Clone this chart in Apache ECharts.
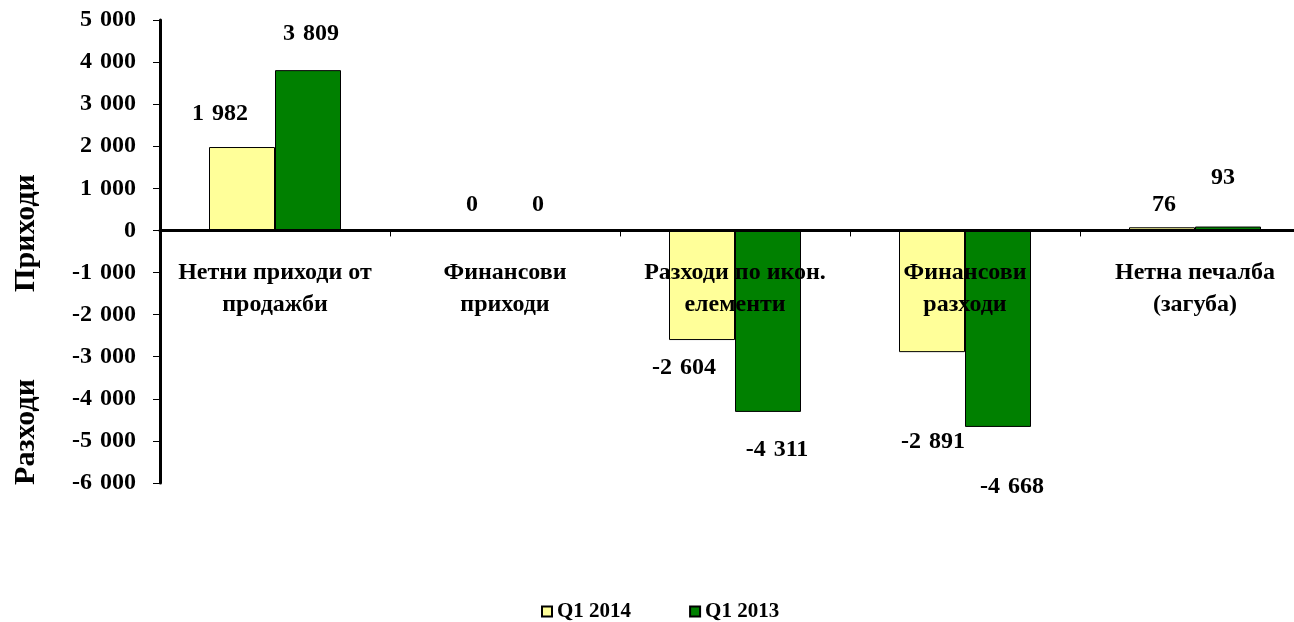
<!DOCTYPE html>
<html>
<head>
<meta charset="utf-8">
<script src="https://cdn.jsdelivr.net/npm/echarts@6/dist/echarts.min.js"></script>
<style>
  html, body { margin: 0; padding: 0; background: #fff; }
  #chart { width: 1294px; height: 622px; }
</style>
</head>
<body>
<div id="chart"></div>
<script>
const categories = [
  "Нетни приходи от\nпродажби",
  "Финансови\nприходи",
  "Разходи по икон.\nелементи",
  "Финансови\nразходи",
  "Нетна печалба\n(загуба)"
];
const seriesNames = ["Q1 2014", "Q1 2013"];
const q1_2014 = [1982, 0, -2604, -2891, 76];
const q1_2013 = [3809, 0, -4311, -4668, 93];

// label nudges to mimic where the original placed its data labels
const lift2014 = [21, 13, 16, 78, 10];
const lift2013 = [24, 13, 26, 48, 37];
const shift2014 = [-22, 0, -18, 1, 2];
const shift2013 = [3, 0, 9, 14, -5];

const FONT = "'Liberation Serif', 'Times New Roman', serif";
const GRID_TOP = 20, GRID_H = 463, Y_MIN = -6000, Y_MAX = 5000;
const zeroY = GRID_TOP + GRID_H * Y_MAX / (Y_MAX - Y_MIN);

const fmt = v => {
  const s = Math.abs(v).toString().replace(/\B(?=(\d{3})+(?!\d))/g, "\u2004");
  return (v < 0 ? "-" : "") + s;
};

const toItems = (vals, lift, shift) => vals.map((v, i) => ({
  value: v,
  label: {
    position: v < 0 ? "bottom" : "top",
    distance: lift[i],
    offset: [shift[i], 0]
  }
}));

const labelStyle = {
  show: true,
  formatter: p => fmt(p.value),
  fontFamily: FONT,
  fontWeight: "bold",
  fontSize: 24,
  color: "#000"
};

const chart = echarts.init(document.getElementById("chart"));
chart.setOption({
  animation: false,
  backgroundColor: "#fff",
  grid: {
    left: 160, width: 1150, top: GRID_TOP, height: GRID_H,
    containLabel: false, outerBoundsMode: "none"
  },
  legend: {
    data: seriesNames,
    left: 536,
    top: 596,
    icon: "rect",
    itemWidth: 10,
    itemHeight: 10,
    itemGap: 58,
    textStyle: { fontFamily: FONT, fontWeight: "bold", fontSize: 21, color: "#000" }
  },
  xAxis: {
    type: "category",
    data: categories,
    position: "bottom",
    offset: -(GRID_TOP + GRID_H - zeroY),
    z: 5,
    axisLine: { onZero: false, lineStyle: { color: "#000", width: 3 } },
    axisTick: { show: true, length: 6, lineStyle: { color: "#000", width: 1 } },
    axisLabel: {
      interval: 0,
      margin: 26,
      fontFamily: FONT,
      fontWeight: "bold",
      fontSize: 24,
      lineHeight: 32,
      color: "#000"
    },
    splitLine: { show: false }
  },
  yAxis: {
    type: "value",
    min: Y_MIN,
    max: Y_MAX,
    interval: 1000,
    z: 5,
    axisLine: { show: true, lineStyle: { color: "#000", width: 3 } },
    axisTick: { show: true, length: 7, lineStyle: { color: "#000", width: 1 } },
    axisLabel: {
      margin: 24,
      formatter: fmt,
      fontFamily: FONT,
      fontWeight: "bold",
      fontSize: 24,
      color: "#000"
    },
    splitLine: { show: false }
  },
  series: [
    {
      name: seriesNames[0],
      type: "bar",
      barWidth: 66,
      barGap: "0%",
      data: toItems(q1_2014, lift2014, shift2014),
      itemStyle: { color: "#FFFF99", borderColor: "#000", borderWidth: 1 },
      label: labelStyle
    },
    {
      name: seriesNames[1],
      type: "bar",
      barWidth: 66,
      barGap: "0%",
      data: toItems(q1_2013, lift2013, shift2013),
      itemStyle: { color: "#008000", borderColor: "#000", borderWidth: 1 },
      label: labelStyle
    }
  ],
  graphic: [
    {
      type: "text",
      x: 26, y: 233,
      rotation: Math.PI / 2,
      style: {
        text: "Приходи",
        font: "bold 30px " + FONT,
        fill: "#000",
        align: "center",
        verticalAlign: "middle"
      }
    },
    {
      type: "text",
      x: 26, y: 432,
      rotation: Math.PI / 2,
      style: {
        text: "Разходи",
        font: "bold 30px " + FONT,
        fill: "#000",
        align: "center",
        verticalAlign: "middle"
      }
    }
  ]
});
</script>
</body>
</html>
